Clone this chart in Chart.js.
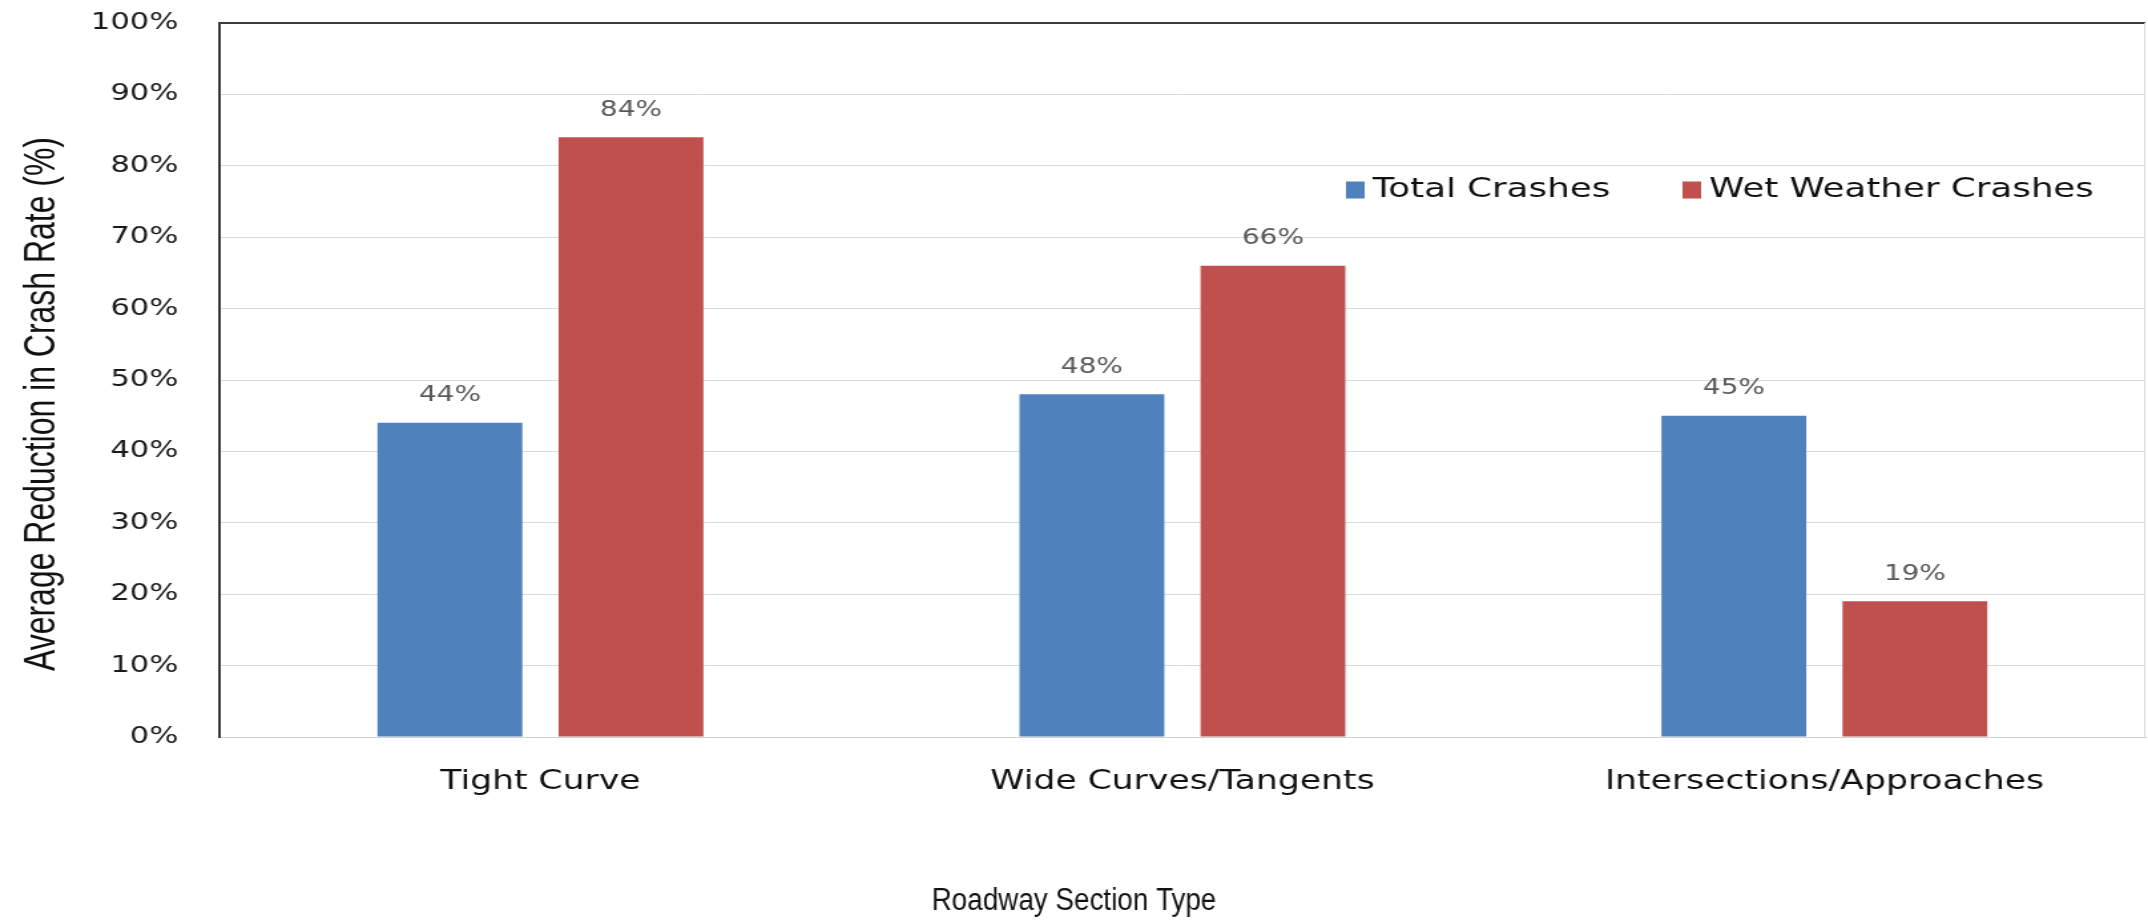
<!DOCTYPE html>
<html>
<head>
<meta charset="utf-8">
<script src="https://cdn.jsdelivr.net/npm/chart.js@4/dist/chart.umd.min.js"></script>
<style>
  html, body { margin: 0; padding: 0; background: #ffffff; overflow: hidden; }
  #wrap { width: 1615px; height: 920px; transform: scaleX(1.33003); transform-origin: 0 0; }
  canvas { display: block; }
</style>
</head>
<body>
<div id="wrap"><canvas id="c" width="1615" height="920"></canvas></div>
<script>
const categories = ["Tight Curve", "Wide Curves/Tangents", "Intersections/Approaches"];
const seriesNames = ["Total Crashes", "Wet Weather Crashes"];
const totalCrashes = [44, 48, 45];
const wetWeatherCrashes = [84, 66, 19];
const yTicks = [0, 10, 20, 30, 40, 50, 60, 70, 80, 90, 100];
const xTitle = "Roadway Section Type";
const yTitle = "Average Reduction in Crash Rate (%)";

const BLUE = "#4F81BD";
const RED = "#C0504D";

const valueLabels = {
  id: "valueLabels",
  afterDatasetsDraw(chart) {
    const ctx = chart.ctx;
    ctx.save();
    ctx.font = "21px 'DejaVu Sans'";
    ctx.fillStyle = "#595959";
    ctx.textAlign = "center";
    ctx.textBaseline = "middle";
    chart.data.datasets.forEach((ds, i) => {
      const meta = chart.getDatasetMeta(i);
      meta.data.forEach((bar, j) => {
        ctx.fillText(ds.data[j] + "%", bar.x, bar.y - 27);
      });
    });
    const a = chart.chartArea;
    ctx.strokeStyle = "#d9d9d9";
    ctx.lineWidth = 1;
    ctx.beginPath();
    ctx.moveTo(a.right - 0.5, a.top);
    ctx.lineTo(a.right - 0.5, a.bottom);
    ctx.stroke();
    ctx.restore();
  }
};

const innerLegend = {
  id: "innerLegend",
  afterDraw(chart) {
    const ctx = chart.ctx;
    const yc = 190;
    const boxX = [1012, 1265];
    ctx.save();
    ctx.font = "26.8px 'DejaVu Sans'";
    ctx.textBaseline = "middle";
    ctx.textAlign = "left";
    chart.data.datasets.forEach((ds, i) => {
      ctx.fillStyle = ds.backgroundColor;
      ctx.fillRect(boxX[i], yc - 8.5, 14, 17);
      ctx.fillStyle = "#111111";
      ctx.fillText(ds.label, boxX[i] + 20, yc);
    });
    ctx.restore();
  }
};

// axis titles, fitted to the reference text lengths
const axisTitles = {
  id: "axisTitles",
  afterDraw(chart) {
    const ctx = chart.ctx;
    ctx.save();
    ctx.fillStyle = "#111111";
    ctx.textAlign = "center";
    ctx.textBaseline = "middle";
    // x title
    ctx.font = "31px 'Liberation Sans'";
    let w = ctx.measureText(xTitle).width;
    ctx.save();
    ctx.translate(chart.width / 2, 901);
    ctx.scale(214 / w, 1);
    ctx.fillText(xTitle, 0, 0);
    ctx.restore();
    // y title
    ctx.font = "33px 'Liberation Sans'";
    w = ctx.measureText(yTitle).width;
    ctx.save();
    ctx.translate(31.6, 404);
    ctx.rotate(-Math.PI / 2);
    ctx.scale(534 / w, 1);
    ctx.fillText(yTitle, 0, 0);
    ctx.restore();
    ctx.restore();
  }
};

new Chart(document.getElementById("c"), {
  type: "bar",
  data: {
    labels: categories,
    datasets: [
      { label: seriesNames[0], data: totalCrashes, backgroundColor: BLUE, borderWidth: 0,
        categoryPercentage: 0.564, barPercentage: 0.80 },
      { label: seriesNames[1], data: wetWeatherCrashes, backgroundColor: RED, borderWidth: 0,
        categoryPercentage: 0.564, barPercentage: 0.80 }
    ]
  },
  options: {
    responsive: false,
    devicePixelRatio: 1,
    animation: false,
    layout: { padding: { top: 23, right: 2, left: 0, bottom: 0 } },
    plugins: {
      legend: { display: false },
      tooltip: { enabled: false },
      title: { display: false }
    },
    scales: {
      x: {
        grid: { display: false },
        border: { display: true, color: "#d0d0d0", width: 1 },
        ticks: {
          color: "#111111",
          font: { family: "'DejaVu Sans'", size: 26 },
          padding: 22,
          maxRotation: 0,
          autoSkip: false
        },
        afterFit(scale) { scale.height = 183; scale.paddingLeft = 0; scale.paddingRight = 0; }
      },
      y: {
        min: 0,
        max: 100,
        afterBuildTicks(scale) { scale.ticks = yTicks.map(v => ({ value: v })); },
        grid: {
          drawTicks: false,
          color: (c) => (c.tick && c.tick.value === 100 ? "#3a3a3a" : "#d9d9d9"),
          lineWidth: (c) => (c.tick && c.tick.value === 100 ? 2 : 1)
        },
        border: { display: true, color: "#3a3a3a", width: 2 },
        ticks: {
          color: "#1a1a1a",
          font: { family: "'DejaVu Sans'", size: 23 },
          padding: 31,
          callback: (v) => v + "%"
        },
        title: { display: false },
        afterFit(scale) { scale.width = 165; scale.paddingTop = 0; scale.paddingBottom = 0; }
      }
    }
  },
  plugins: [valueLabels, innerLegend, axisTitles]
});
</script>
</body>
</html>
